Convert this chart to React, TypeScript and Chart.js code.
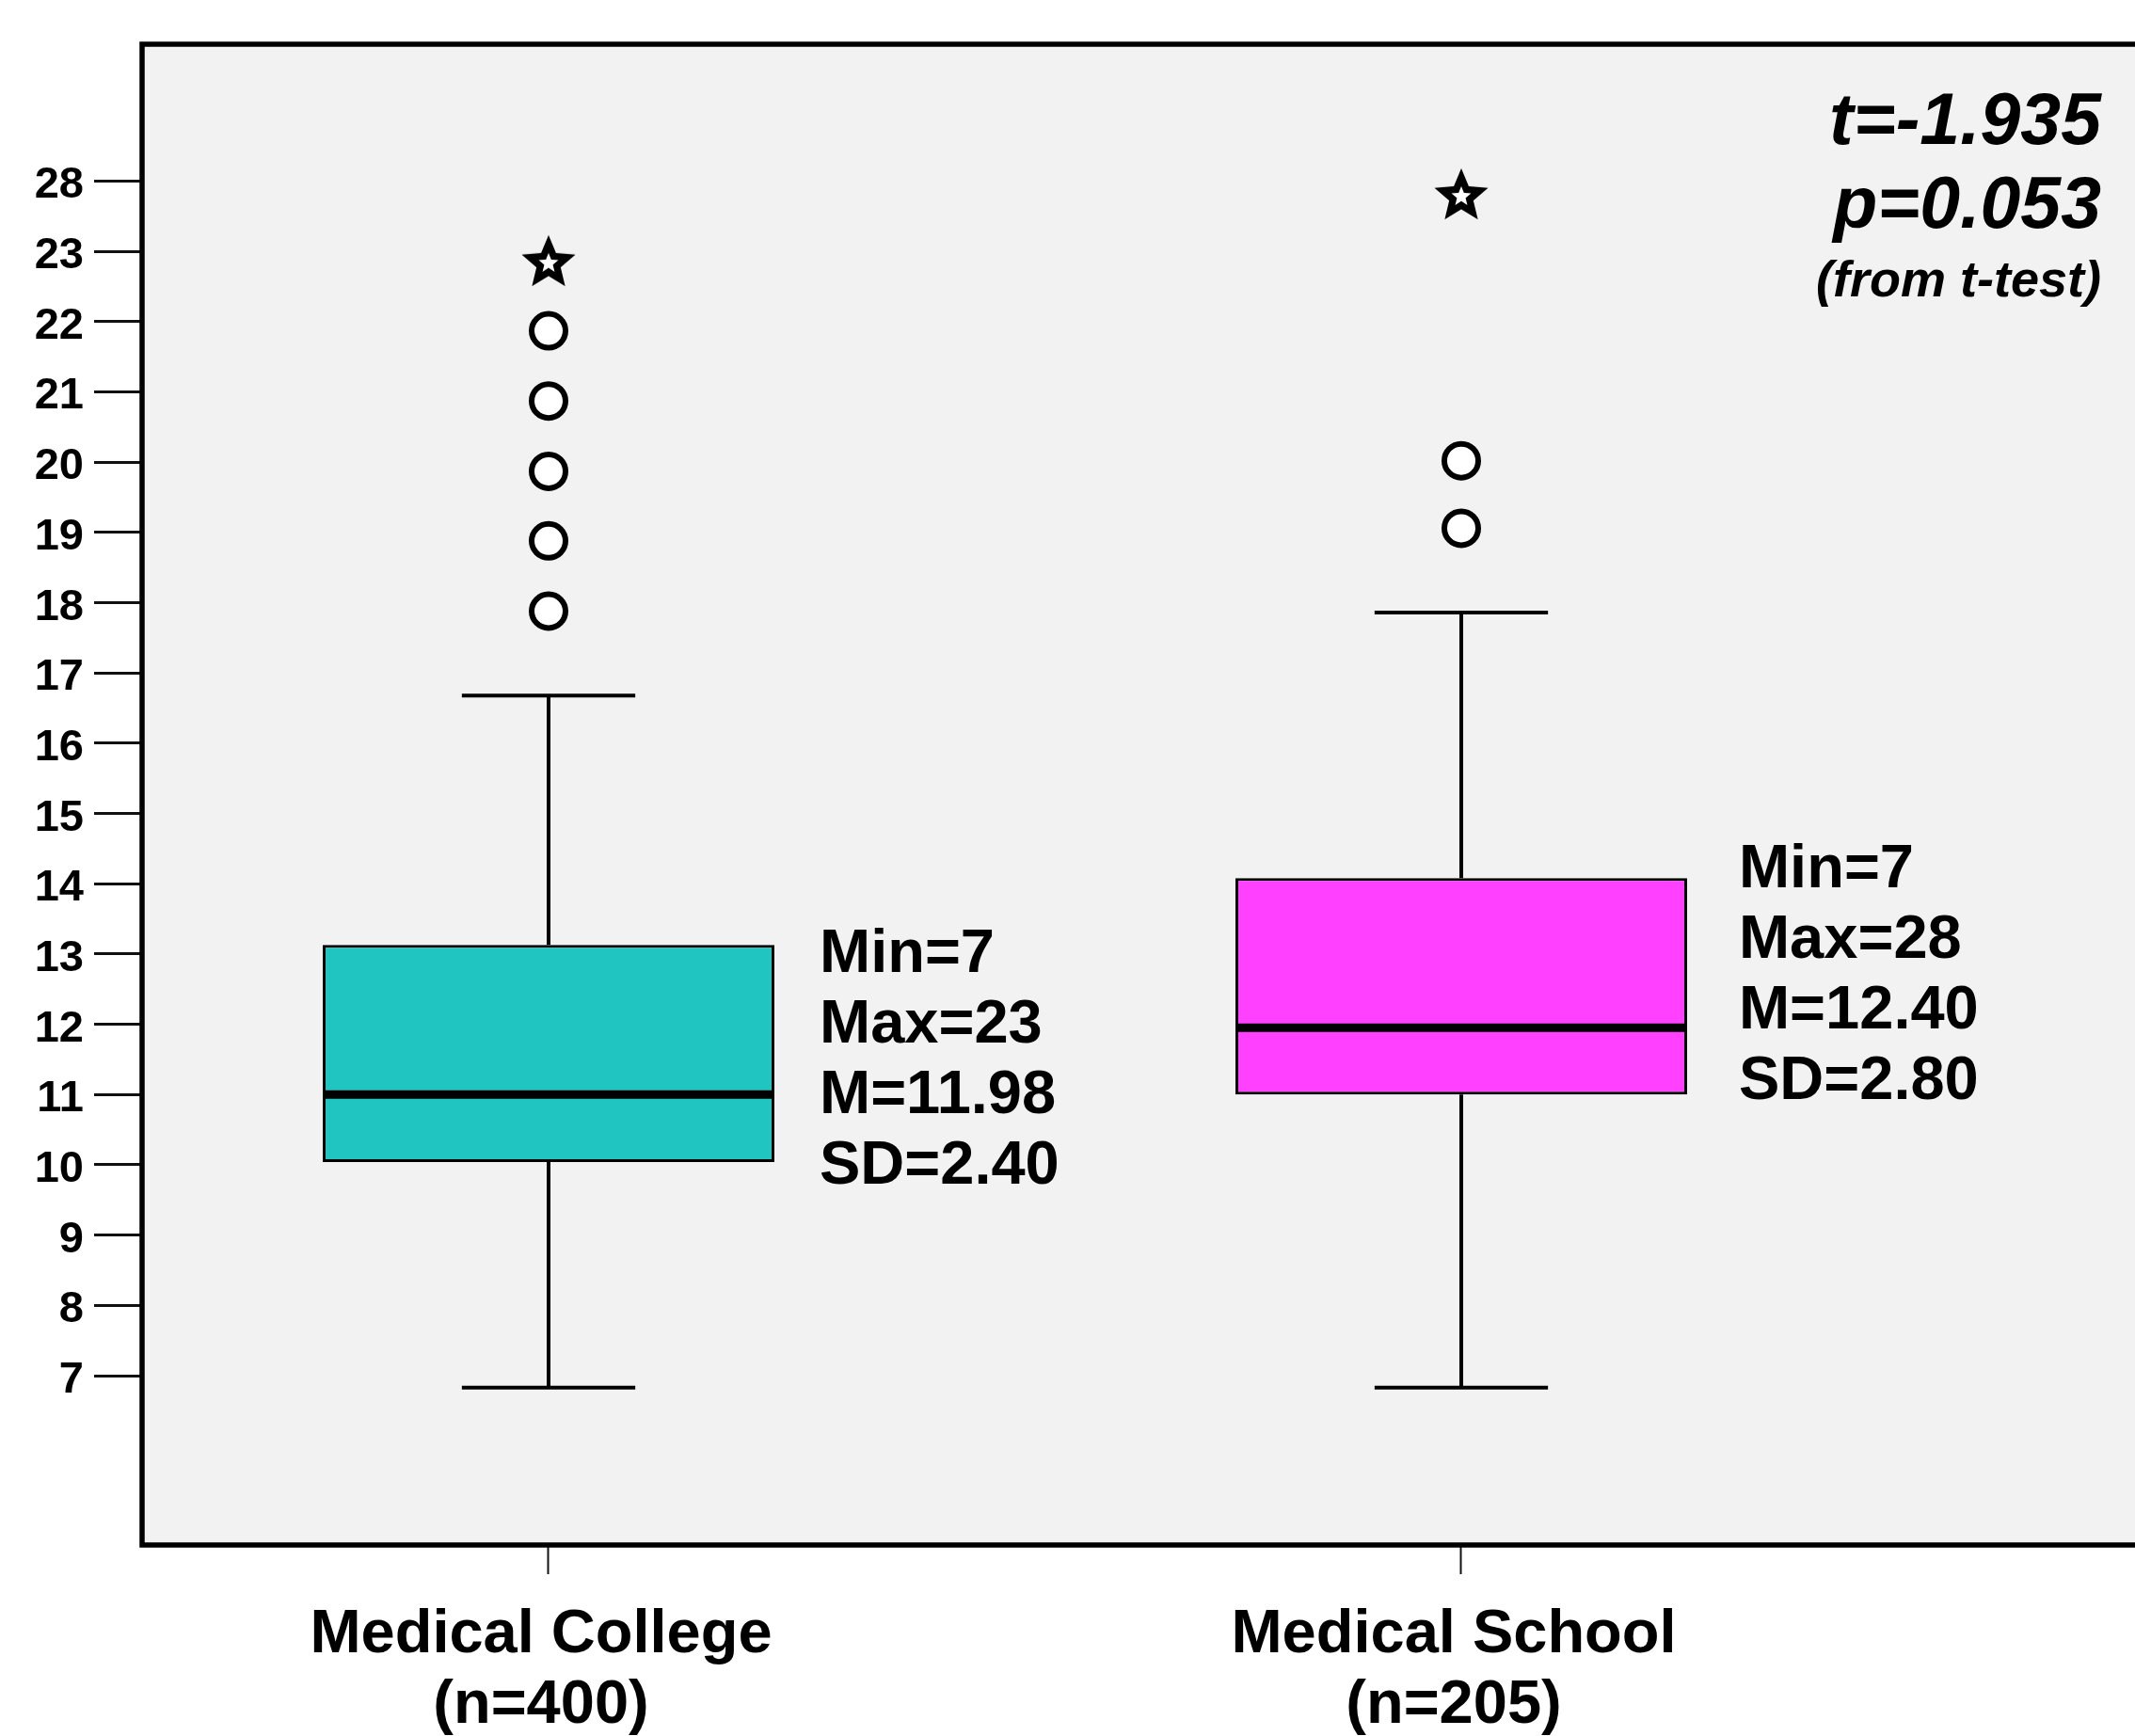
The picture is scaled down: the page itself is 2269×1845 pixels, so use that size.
import React, { useEffect, useRef } from 'react';
import { Chart, registerables } from 'chart.js';

Chart.register(...registerables);

// ---------- data (y in axis units) ----------
const GROUPS = ['Medical College', 'Medical School'];
const GROUP_N = ['(n=400)', '(n=205)'];
const GROUP_X = [1, 2];
const BOX_COLORS = ['#20C4C0', '#FF40FF'];

const Q1 = [10.04, 11.0];
const MEDIAN = [11.0, 11.95];
const Q3 = [13.13, 14.08];
const WHISKER_LOW = [6.83, 6.83];
const WHISKER_HIGH = [16.68, 17.86];

const OUTLIERS_COLLEGE = [17.88, 18.88, 19.87, 20.87, 21.87];
const OUTLIERS_SCHOOL = [19.06, 20.02];
// extreme values (stars). The axis is broken above 23: its "28" tick sits at position 24.
const EXTREMES_COLLEGE = [22.83];
const EXTREMES_SCHOOL = [23.78];

const Y_TICKS = [7, 8, 9, 10, 11, 12, 13, 14, 15, 16, 17, 18, 19, 20, 21, 22, 23, 24];
const Y_TICK_LABELS = ['7', '8', '9', '10', '11', '12', '13', '14', '15', '16', '17', '18', '19', '20', '21', '22', '23', '28'];

const STATS_COLLEGE = ['Min=7', 'Max=23', 'M=11.98', 'SD=2.40'];
const STATS_SCHOOL = ['Min=7', 'Max=28', 'M=12.40', 'SD=2.80'];
const TEST_LINES = ['t=-1.935', 'p=0.053', '(from t-test)'];

// ---------- layout constants ----------
const W = 2400;
const H = 1900;
const X_MIN = 0.55464;
const PX_PER_GROUP = 970;
const CAP_HALF = 0.095; // whisker cap half-width in x units

function makeStar(): HTMLCanvasElement {
  const c = document.createElement('canvas');
  c.width = 64;
  c.height = 64;
  const g = c.getContext('2d') as CanvasRenderingContext2D;
  const star = (cx: number, cy: number, R: number, r: number, color: string) => {
    g.beginPath();
    for (let k = 0; k < 10; k++) {
      const a = -Math.PI / 2 + (k * Math.PI) / 5;
      const rad = k % 2 === 0 ? R : r;
      const px = cx + rad * Math.cos(a);
      const py = cy + rad * Math.sin(a);
      if (k === 0) g.moveTo(px, py);
      else g.lineTo(px, py);
    }
    g.closePath();
    g.fillStyle = color;
    g.fill();
  };
  star(32, 32, 30, 13.5, '#000');
  star(32, 32, 11, 4.8, '#fff');
  return c;
}

const boxExtras = {
  id: 'boxExtras',
  beforeDraw(chart: any) {
    const { ctx, chartArea } = chart;
    ctx.save();
    ctx.fillStyle = '#F2F2F2';
    ctx.fillRect(chartArea.left, chartArea.top, chartArea.right - chartArea.left, chartArea.bottom - chartArea.top);
    ctx.restore();
  },
  beforeDatasetsDraw(chart: any) {
    const { ctx } = chart;
    const xs = chart.scales.x;
    const ys = chart.scales.y;
    ctx.save();
    ctx.strokeStyle = '#000';
    ctx.lineWidth = 4;
    ctx.lineCap = 'butt';
    GROUP_X.forEach((gx, i) => {
      const cx = xs.getPixelForValue(gx);
      const half = xs.getPixelForValue(gx + CAP_HALF) - cx;
      const yQ1 = ys.getPixelForValue(Q1[i]);
      const yQ3 = ys.getPixelForValue(Q3[i]);
      const yLo = ys.getPixelForValue(WHISKER_LOW[i]);
      const yHi = ys.getPixelForValue(WHISKER_HIGH[i]);
      ctx.beginPath();
      ctx.moveTo(cx, yQ3);
      ctx.lineTo(cx, yHi);
      ctx.moveTo(cx, yQ1);
      ctx.lineTo(cx, yLo);
      ctx.moveTo(cx - half, yHi);
      ctx.lineTo(cx + half, yHi);
      ctx.moveTo(cx - half, yLo);
      ctx.lineTo(cx + half, yLo);
      ctx.stroke();
    });
    ctx.restore();
  },
  afterDatasetsDraw(chart: any) {
    const { ctx } = chart;
    const ys = chart.scales.y;
    const meta = chart.getDatasetMeta(0);
    ctx.save();
    ctx.strokeStyle = '#000';
    ctx.lineWidth = 9;
    meta.data.forEach((bar: any, i: number) => {
      const { x, width } = bar.getProps(['x', 'width'], true);
      const ym = ys.getPixelForValue(MEDIAN[i]);
      ctx.beginPath();
      ctx.moveTo(x - width / 2, ym);
      ctx.lineTo(x + width / 2, ym);
      ctx.stroke();
    });
    ctx.restore();
  },
  afterDraw(chart: any) {
    const { ctx, chartArea } = chart;
    const xs = chart.scales.x;
    const ys = chart.scales.y;
    ctx.save();
    // frame
    ctx.strokeStyle = '#000';
    ctx.lineWidth = 5.5;
    ctx.lineJoin = 'miter';
    ctx.strokeRect(chartArea.left, chartArea.top, chartArea.right - chartArea.left, chartArea.bottom - chartArea.top);

    // descriptive statistics next to each box
    ctx.fillStyle = '#000';
    ctx.font = 'bold 65px "Liberation Sans", Arial, sans-serif';
    ctx.textAlign = 'left';
    ctx.textBaseline = 'alphabetic';
    const statBlocks = [
      { lines: STATS_COLLEGE, x: 1.2969, y: 12.745 },
      { lines: STATS_SCHOOL, x: 2.3041, y: 13.954 },
    ];
    statBlocks.forEach((b) => {
      const px = xs.getPixelForValue(b.x);
      const py = ys.getPixelForValue(b.y);
      b.lines.forEach((t, k) => ctx.fillText(t, px, py + k * 75));
    });

    // t-test note
    ctx.textAlign = 'right';
    const rx = xs.getPixelForValue(2.701);
    ctx.font = 'italic bold 77px "Liberation Sans", Arial, sans-serif';
    ctx.fillText(TEST_LINES[0], rx, chartArea.top + 106);
    ctx.fillText(TEST_LINES[1], rx, chartArea.top + 195);
    ctx.font = 'italic bold 54px "Liberation Sans", Arial, sans-serif';
    ctx.fillText(TEST_LINES[2], rx, chartArea.top + 268);
    ctx.restore();
  },
};

export default function App() {
  const ref = useRef<HTMLCanvasElement | null>(null);

  useEffect(() => {
    if (!ref.current) return;
    const starImg = makeStar();
    const chart = new Chart(ref.current, {
      type: 'bar',
      data: {
        datasets: [
          {
            type: 'bar',
            label: 'IQR',
            data: GROUP_X.map((x, i) => ({ x, y: [Q1[i], Q3[i]] })) as any,
            backgroundColor: BOX_COLORS,
            borderColor: '#000',
            borderWidth: 3,
            borderSkipped: false,
            barPercentage: 0.4948,
            categoryPercentage: 1,
          } as any,
          {
            type: 'scatter',
            label: 'Outliers',
            data: [
              ...OUTLIERS_COLLEGE.map((y) => ({ x: GROUP_X[0], y })),
              ...OUTLIERS_SCHOOL.map((y) => ({ x: GROUP_X[1], y })),
            ],
            pointStyle: 'circle',
            pointRadius: 18,
            pointBorderWidth: 6,
            pointBackgroundColor: '#fff',
            pointBorderColor: '#000',
          } as any,
          {
            type: 'scatter',
            label: 'Extremes',
            data: [
              ...EXTREMES_COLLEGE.map((y) => ({ x: GROUP_X[0], y })),
              ...EXTREMES_SCHOOL.map((y) => ({ x: GROUP_X[1], y })),
            ],
            pointStyle: starImg,
            pointRadius: 30,
          } as any,
        ],
      },
      options: {
        responsive: false,
        devicePixelRatio: 1,
        animation: false,
        events: [],
        layout: { padding: { top: 47, left: 0, right: 0, bottom: 0 } },
        plugins: { legend: { display: false }, tooltip: { enabled: false } },
        scales: {
          x: {
            type: 'linear',
            min: X_MIN,
            max: 2.8732,
            offset: false,
            bounds: 'data',
            afterDataLimits: (s: any) => {
              s.min = X_MIN;
              s.max = X_MIN + s.width / PX_PER_GROUP;
            },
            afterBuildTicks: (s: any) => {
              s.ticks = GROUP_X.map((v) => ({ value: v }));
            },
            afterFit: (s: any) => {
              s.height = H - 1642;
            },
            ticks: {
              autoSkip: false,
              maxRotation: 0,
              minRotation: 0,
              padding: 28,
              labelOffset: -8,
              color: '#000',
              font: { family: '"Liberation Sans", Arial, sans-serif', size: 65, weight: 'bold', lineHeight: 75 / 65 },
              callback: (_v: any, i: number) => [GROUPS[i], GROUP_N[i]],
            },
            grid: {
              offset: false,
              drawOnChartArea: false,
              drawTicks: true,
              tickLength: 31,
              tickWidth: 2,
              tickColor: '#111',
            },
            border: { display: false },
          },
          y: {
            type: 'linear',
            min: 4.59,
            max: 25.948,
            beginAtZero: false,
            bounds: 'data',
            afterBuildTicks: (s: any) => {
              s.ticks = Y_TICKS.map((v) => ({ value: v }));
            },
            afterFit: (s: any) => {
              s.width = 151;
            },
            ticks: {
              autoSkip: false,
              padding: 11,
              labelOffset: 5,
              color: '#000',
              font: { family: '"Liberation Sans", Arial, sans-serif', size: 47, weight: 'bold' },
              callback: (_v: any, i: number) => Y_TICK_LABELS[i],
            },
            grid: {
              drawOnChartArea: false,
              drawTicks: true,
              tickLength: 51,
              tickWidth: 3,
              tickColor: '#111',
            },
            border: { display: false },
          },
        },
      } as any,
      plugins: [boxExtras],
    });
    return () => chart.destroy();
  }, []);

  return (
    <div
      style={{
        position: 'fixed',
        left: 0,
        top: 0,
        width: 2269,
        height: 1845,
        overflow: 'hidden',
        background: '#fff',
      }}
    >
      <canvas ref={ref} width={W} height={H} style={{ display: 'block', width: W, height: H }} />
    </div>
  );
}
